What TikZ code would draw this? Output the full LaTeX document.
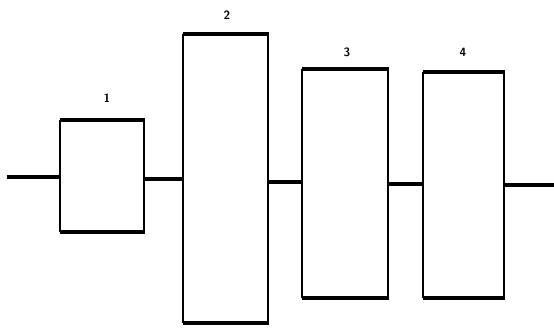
\documentclass[tikz,border=0pt]{standalone}
\begin{document}
\begin{tikzpicture}[x=1pt,y=-1pt,
  boxn/.style={minimum width=#1, inner sep=0pt, outer sep=0pt},
  sideline/.style={line width=1.4pt},
  capline/.style={line width=4pt},
  wire/.style={line width=4pt},
  lbl/.style={font=\sffamily\bfseries\large}]
\useasboundingbox (0,0) rectangle (554,330);
\node[boxn=84pt, minimum height=112pt] (b1) at (102,176) {};
\node[boxn=85pt, minimum height=289pt] (b2) at (225.5,178.5) {};
\node[boxn=86pt, minimum height=229pt] (b3) at (345,183.5) {};
\node[boxn=81pt, minimum height=226pt] (b4) at (463.5,185) {};
\foreach \b in {b1,b2,b3,b4}{
  \draw[sideline] (\b.north west) -- (\b.south west);
  \draw[sideline] (\b.north east) -- (\b.south east);
  \draw[capline] ([xshift=-0.5pt]\b.north west) -- ([xshift=0.5pt]\b.north east);
  \draw[capline] ([xshift=-0.5pt]\b.south west) -- ([xshift=0.5pt]\b.south east);
}
\node[lbl] (l1) at (107,98) {1};
\node[lbl] (l2) at (227,15) {2};
\node[lbl] (l3) at (347,52) {3};
\node[lbl] (l4) at (463,52) {4};
\coordinate (in) at (7,177);
\coordinate (out) at (554,185);
\draw[wire] (in) -- (in -| b1.west);
\draw[wire] ([yshift=-3pt]b1.east) -- ([yshift=-3pt]b1.east -| b2.west);
\draw[wire] ([yshift=-3.5pt]b2.east) -- ([yshift=-3.5pt]b2.east -| b3.west);
\draw[wire] (b3.east) -- (b3.east -| b4.west);
\draw[wire] (b4.east) -- (out);
\end{tikzpicture}
\end{document}
